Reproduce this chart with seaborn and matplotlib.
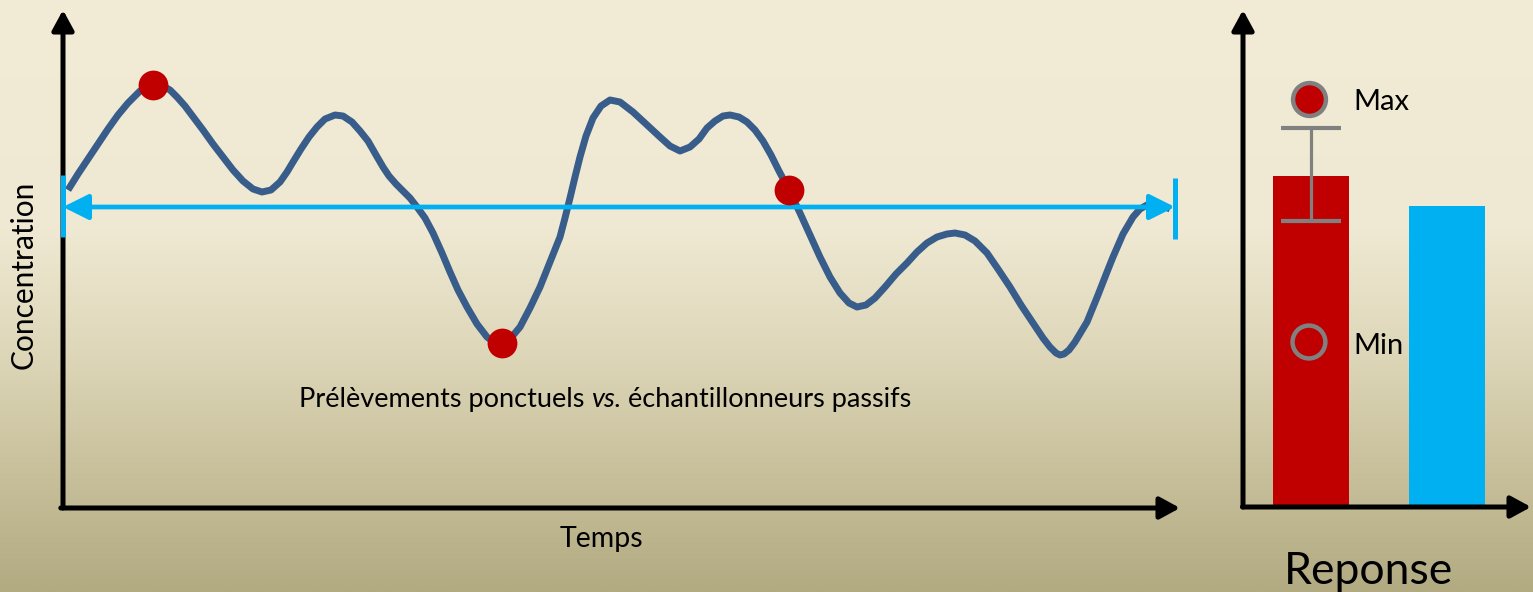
import matplotlib
matplotlib.use("Agg")
import matplotlib.pyplot as plt
from matplotlib.colors import LinearSegmentedColormap
import numpy as np
import pandas as pd
import seaborn as sns

# concentration curve (time, concentration in arbitrary units)
temps = [5, 15, 25, 35, 45, 55, 65, 77, 85, 92, 100, 107, 114, 122, 131, 140, 150, 160,
         170, 180, 190, 199, 208, 217, 224, 230, 238, 246, 254, 262, 272, 280, 289, 297,
         305, 313, 320, 326, 333, 340, 347, 354, 362, 370, 379, 387, 395, 404, 414, 424,
         432, 439, 447, 457, 467, 477, 487, 497, 502, 507, 512, 517, 523, 530, 538, 547,
         557, 570, 583, 597, 607, 617, 627, 636, 644, 652, 660, 667, 676, 684, 692, 700,
         708, 716, 726, 737, 747, 757, 767, 777, 786, 794, 803, 812, 822, 833, 844, 854,
         864, 874, 884, 892, 902, 912, 924, 935, 947, 958, 970, 980, 987, 993, 997, 1001,
         1006, 1012, 1024, 1035, 1044, 1050, 1060, 1070, 1077, 1084, 1092, 1100, 1107]
concentration = [318, 334, 349, 364, 379, 393, 405, 417, 422, 424, 422, 418, 411, 402, 390, 378, 364, 351,
                 338, 327, 319, 316, 318, 326, 336, 346, 359, 371, 381, 389, 393, 392, 386, 377,
                 367, 353, 341, 332, 324, 317, 310, 301, 290, 275, 255, 236, 218, 201, 184, 171,
                 165, 164, 169, 181, 200, 221, 246, 271, 290, 310, 331, 351, 372, 390, 402, 408,
                 406, 396, 384, 371, 362, 357, 361, 369, 380, 387, 392, 393, 391, 386, 378, 367,
                 353, 337, 318, 295, 273, 251, 231, 215, 205, 201, 203, 210, 221, 234, 245, 256,
                 265, 271, 274, 275, 273, 267, 255, 239, 221, 203, 185, 170, 161, 155, 153, 154,
                 158, 166, 186, 213, 236, 251, 274, 291, 299, 303, 304, 302, 299]

# grab samples (red dots)
sample_t = [90, 439, 726]
sample_c = [423, 165, 318]

# passive sampler: time-weighted average over the whole period
passive_start, passive_end = 0, 1112
passive_level = 301

# right panel: response
reponse_cats = ["Ponctuel", "Passif"]
reponse_vals = [331, 301]
reponse_err = 46.5
reponse_err_center = 332.5
reponse_max = 408
reponse_min = 165

RED = "#C00000"
BLUE = "#00B0F0"
CURVE = "#385D8A"
GREY = "#808080"

sns.set_theme(style="white")
plt.rcParams["font.family"] = ["Lato", "DejaVu Sans"]

W, H = 1533, 592
fig = plt.figure(figsize=(W / 100, H / 100), dpi=100)

# background gradient
bg = fig.add_axes([0, 0, 1, 1], zorder=-10)
cmap = LinearSegmentedColormap.from_list(
    "bg", [(0.0, "#F2EBD5"), (0.39, "#EFE9D3"), (0.6, "#DDD6B8"),
           (0.8, "#C8C09B"), (1.0, "#B2AA81")])
bg.imshow(np.linspace(0, 1, 256).reshape(-1, 1), aspect="auto", cmap=cmap,
          extent=[0, 1, 0, 1])
bg.set_axis_off()


def px_axes(left, top, right, bottom):
    return fig.add_axes([left / W, (H - bottom) / H, (right - left) / W, (bottom - top) / H])


def arrow_axes(ax):
    for s in ax.spines.values():
        s.set_visible(False)
    ax.patch.set_alpha(0)
    kw = dict(arrowstyle="-|>,head_length=0.55,head_width=0.3", lw=3.6, color="black",
              mutation_scale=22, shrinkA=0, shrinkB=0)
    ax.annotate("", xy=(0, 1), xytext=(0, 0), xycoords="axes fraction",
                textcoords="axes fraction", arrowprops=kw, annotation_clip=False)
    ax.annotate("", xy=(1, 0), xytext=(-0.002, 0), xycoords="axes fraction",
                textcoords="axes fraction", arrowprops=kw, annotation_clip=False)


def ptext(px, py, s, **kw):
    # place text at a pixel position of the figure
    fig.text(px / W, 1 - py / H, s, color="black", **kw)


# ---- left panel
ax = px_axes(63, 10, 1180, 508)
arrow_axes(ax)

df = pd.DataFrame({"t": temps, "c": concentration})
sns.lineplot(data=df, x="t", y="c", ax=ax, color=CURVE, lw=5, sort=False,
             solid_joinstyle="round", solid_capstyle="butt", zorder=3)
ax.annotate("", xy=(passive_end, passive_level), xytext=(passive_start, passive_level),
            arrowprops=dict(arrowstyle="<|-|>,head_length=0.7,head_width=0.35", lw=3.4,
                            color=BLUE, mutation_scale=22, shrinkA=0, shrinkB=0), zorder=4)
ax.plot([passive_start] * 2, [passive_level - 30, passive_level + 32], color=BLUE, lw=3.6,
        solid_capstyle="butt", zorder=5, clip_on=False)
ax.plot([passive_end] * 2, [passive_level - 32, passive_level + 29], color=BLUE, lw=3.6,
        solid_capstyle="butt", zorder=5, clip_on=False)
sns.scatterplot(x=sample_t, y=sample_c, ax=ax, color=RED, s=460, linewidth=0, zorder=6)
ax.set_xlim(0, 1117)
ax.set_ylim(0, 498)
ax.set_xticks([])
ax.set_yticks([])
ax.set_xlabel("")
ax.set_ylabel("")

ptext(601, 547, "Temps", fontsize=20.5, ha="center", va="baseline")
ptext(24, 275, "Concentration", fontsize=21.5, ha="center", va="center", rotation=90)

# caption with italic "vs." : lay the three pieces side by side
fs = 19.5
parts = [("Prélèvements ponctuels ", "normal"), ("vs.", "italic"), (" échantillonneurs passifs", "normal")]
renderer = fig.canvas.get_renderer()
widths = []
for s, st in parts:
    t = fig.text(0, 0, s, fontsize=fs, style=st)
    widths.append(t.get_window_extent(renderer).width)
    t.remove()
x0 = 605 - sum(widths) / 2
for (s, st), w in zip(parts, widths):
    ptext(x0, 407, s, fontsize=fs, style=st, ha="left", va="baseline")
    x0 += w

# ---- right panel
ax2 = px_axes(1243, 10, 1531, 507)
arrow_axes(ax2)
sns.barplot(x=reponse_cats, y=reponse_vals, hue=reponse_cats, palette=[RED, BLUE],
            width=0.56, legend=False, ax=ax2, saturation=1, linewidth=0, zorder=2)
ax2.errorbar([0], [reponse_err_center], yerr=reponse_err, color=GREY, lw=2.3,
             capsize=21.5, capthick=3, zorder=4)
ax2.scatter([-0.015], [reponse_max], s=560, color=RED, edgecolor=GREY, linewidth=3.2, zorder=5)
ax2.scatter([-0.015], [reponse_min], s=560, facecolor="none", edgecolor=GREY, linewidth=3.2, zorder=5)
ax2.set_xlim(-0.5, 1.618)
ax2.set_ylim(0, 497)
ax2.set_xticks([])
ax2.set_yticks([])
ax2.set_xlabel("")
ax2.set_ylabel("")

ptext(1353, 110, "Max", fontsize=21, ha="left", va="baseline")
ptext(1353, 354, "Min", fontsize=21, ha="left", va="baseline")
ptext(1369, 584, "Reponse", fontsize=32, ha="center", va="baseline")

fig.savefig("out.png", dpi=100)
